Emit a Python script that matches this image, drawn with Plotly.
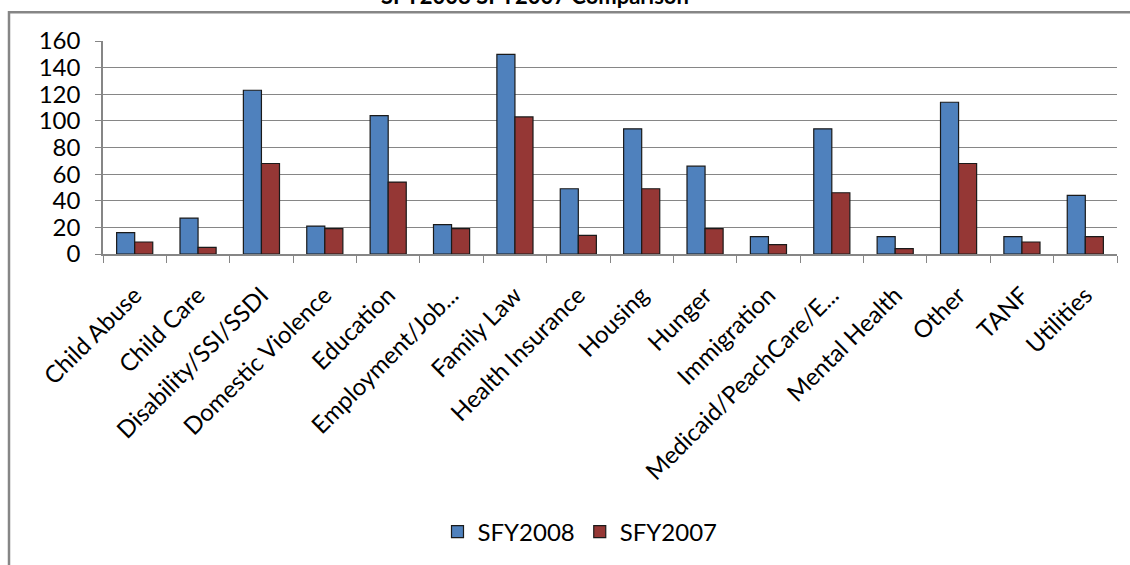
import plotly.graph_objects as go

categories = ["Child Abuse", "Child Care", "Disability/SSI/SSDI", "Domestic Violence",
              "Education", "Employment/Job...", "Family Law", "Health Insurance",
              "Housing", "Hunger", "Immigration", "Medicaid/PeachCare/E...",
              "Mental Health", "Other", "TANF", "Utilities"]
sfy2008 = [16, 27, 123, 21, 104, 22, 150, 49, 94, 66, 13, 94, 13, 114, 13, 44]
sfy2007 = [9, 5, 68, 19, 54, 19, 103, 14, 49, 19, 7, 46, 4, 68, 9, 13]
y_ticks = [0, 20, 40, 60, 80, 100, 120, 140, 160]

FONT = "Lato"
fig = go.Figure()
fig.add_trace(go.Bar(name="SFY2008", x=categories, y=sfy2008,
                     marker=dict(color="#4F81BD", line=dict(color="#1a1a1a", width=1.2))))
fig.add_trace(go.Bar(name="SFY2007", x=categories, y=sfy2007,
                     marker=dict(color="#953735", line=dict(color="#1a1a1a", width=1.2))))

L, R, T, B = 103, 13, 41, 310
W, H = 1130, 565
pw, ph = W - L - R, H - T - B

def px_x(p):
    return (p - L) / pw

def px_y(p):
    return (H - B - p) / ph

fig.update_layout(
    width=W, height=H,
    margin=dict(l=L, r=R, t=T, b=B),
    paper_bgcolor="white", plot_bgcolor="white",
    barmode="group", bargap=0.43, bargroupgap=0,
    font=dict(family=FONT, size=24, color="black"),
    showlegend=True,
    legend=dict(orientation="h", x=px_x(580), y=px_y(532), xanchor="center", yanchor="middle",
                font=dict(family=FONT, size=24, color="black"), itemwidth=30,
                traceorder="normal"),
    xaxis=dict(type="category", tickangle=-45, showline=True, linecolor="#868686", linewidth=1.5,
               ticks="outside", tickson="boundaries", ticklen=7, tickcolor="#868686",
               ticklabelstandoff=16,
               tickfont=dict(family=FONT, size=24, color="black"), showgrid=False,
               automargin=False),
    yaxis=dict(range=[0, 160], tickvals=y_ticks, showline=True, linecolor="#868686", linewidth=1.5,
               ticks="outside", ticklen=6, tickcolor="#868686", showgrid=True,
               ticklabelstandoff=10,
               gridcolor="#868686", gridwidth=1.2, zeroline=False,
               tickfont=dict(family=FONT, size=24, color="black"), automargin=False),
    shapes=[dict(type="rect", xref="paper", yref="paper",
                 x0=px_x(9), x1=px_x(1140), y0=px_y(575), y1=px_y(12),
                 line=dict(color="#868686", width=2.5), fillcolor="rgba(0,0,0,0)", layer="below")],
    annotations=[dict(text="<b>SFY2008 SFY2007 Comparison</b>", xref="paper", yref="paper",
                      x=px_x(535), y=px_y(11), xanchor="center", yanchor="bottom", showarrow=False,
                      font=dict(family=FONT, size=22, color="black"))],
)

fig.write_html("out.html")
